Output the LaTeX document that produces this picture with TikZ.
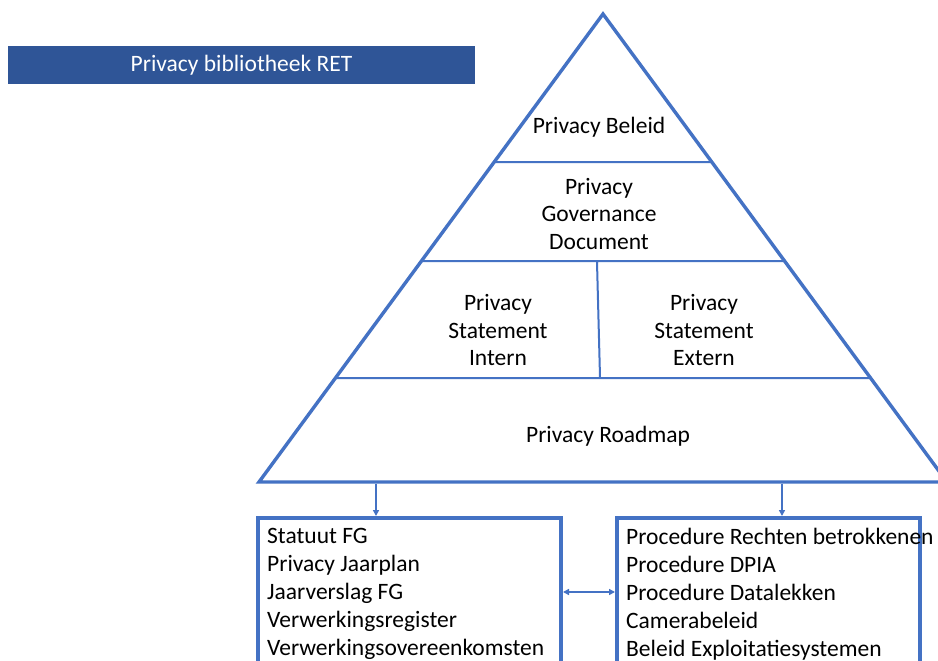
\documentclass[tikz,border=0pt]{standalone}
\usepackage{fontspec}
\setmainfont{Carlito}
\usetikzlibrary{positioning, arrows.meta, calc}

\definecolor{lijn}{HTML}{4472C4}
\definecolor{balk}{HTML}{2F5597}

\tikzset{
  laag/.style={align=center, font=\fontsize{23.5}{27.5}\selectfont},
  kader/.style={draw=lijn, line width=4pt, minimum width=303pt, minimum height=180pt, inner sep=0pt, anchor=north west},
  lijst/.style={align=left, anchor=north west, inner sep=0pt, font=\fontsize{23.5}{28}\selectfont},
  pijl/.style={draw=lijn, line width=1.5pt, -{Triangle[length=6pt,width=6pt]}}
}

\begin{document}
\begin{tikzpicture}[x=1pt, y=-1pt]
\clip (0,0) rectangle (938,661);
\fill[white] (0,0) rectangle (938,661);

% banner
\node (titel) [fill=balk, text=white, minimum width=467pt, minimum height=38pt, inner sep=0pt,
  font=\fontsize{23.5}{24}\selectfont] at (241.5,65) {Privacy bibliotheek RET};

% piramide
\coordinate (top) at (603,14);
\coordinate (links) at (259,482);
\coordinate (rechts) at (947,482);
\draw[lijn, line width=3.4pt, line join=miter] (top) -- (links) -- (rechts) -- cycle;
\coordinate (l1) at (494,162);   \coordinate (r1) at (711,162);
\coordinate (l2) at (422,261);   \coordinate (r2) at (783,261);
\coordinate (l3) at (336,378);   \coordinate (r3) at (869,378);
\coordinate (s1) at (597,262);   \coordinate (s2) at (600,377);
\draw[lijn, line width=2pt] (l1) -- (r1) (l2) -- (r2) (l3) -- (r3) (s1) -- (s2);

\node (beleid) [laag] at (599,127) {Privacy Beleid};
\node (governance) [laag] at (599,214) {Privacy\\Governance\\Document};
\node (intern) [laag] at (498,330) {Privacy\\Statement\\Intern};
\node (extern) [laag] at (704,330) {Privacy\\Statement\\Extern};
\node (roadmap) [laag] at (608,436) {Privacy Roadmap};

% documenten
\node (docs) [kader] at (256,516) {};
\node (procs) [kader] at (615,516) {};
\node (docstekst) [lijst, below right=12pt and 11pt of docs.north west] {Statuut FG\\Privacy Jaarplan\\Jaarverslag FG\\Verwerkingsregister\\Verwerkingsovereenkomsten};
\node (procstekst) [lijst, below right=12pt and 11pt of procs.north west] {Procedure Rechten betrokkenen\\Procedure DPIA\\Procedure Datalekken\\Camerabeleid\\Beleid Exploitatiesystemen};

\coordinate (b1) at (376,483.5);
\coordinate (b2) at (782,483.5);
\coordinate (m1) at ($(docs.north east)+(0,76)$);
\draw[pijl] (b1) -- (b1 |- docs.north);
\draw[pijl] (b2) -- (b2 |- procs.north);
\draw[pijl, {Triangle[length=6pt,width=6pt]}-{Triangle[length=6pt,width=6pt]}] (m1) -- (m1 -| procs.west);
\end{tikzpicture}
\end{document}
